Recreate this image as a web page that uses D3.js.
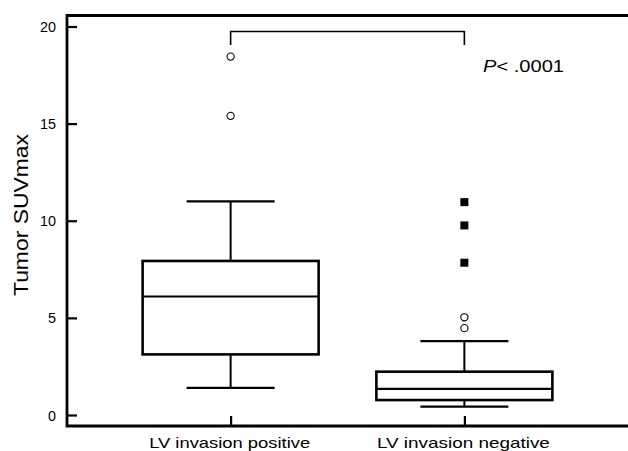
<!DOCTYPE html>
<html>
<head>
<meta charset="utf-8">
<script src="https://cdn.jsdelivr.net/npm/d3@7"></script>
<style>
  body { margin: 0; background: #fff; }
  text { font-family: "Liberation Sans", Arial, sans-serif; fill: #000; }
</style>
</head>
<body>
<script>
var svgWidth = 628;
var svgHeight = 451;

// data
var groups = ['LV invasion positive', 'LV invasion negative'];
var lowWhisker = [1.4, 0.43];
var q1 = [3.12, 0.77];
var medians = [6.1, 1.34];
var q3 = [7.93, 2.23];
var highWhisker = [11.0, 3.8];
var outlierCircles = [[18.45, 15.4], [5.03, 4.47]];
var outlierSquares = [[], [10.96, 9.76, 7.84]];
var yTicks = [0, 5, 10, 15, 20];
var pLabel = '< .0001';

var svg = d3.select('body').append('svg')
  .attr('width', svgWidth)
  .attr('height', svgHeight);

var frameLeft = 67, frameTop = 15.5, frameBottom = 426;

var x = d3.scalePoint().domain(groups).range([frameLeft, svgWidth]).padding(0.7);
var y = d3.scaleLinear().domain([0, 20]).range([415, 26.5]);

var boxWidth = 176, capWidth = 88;

// frame: left, top, bottom (open on the right)
svg.append('path')
  .attr('d', 'M' + svgWidth + ',' + frameTop + 'H' + frameLeft + 'V' + frameBottom + 'H' + svgWidth)
  .attr('fill', 'none')
  .attr('stroke', '#000')
  .attr('stroke-width', 2.8);

// y axis ticks pointing inward
var yAxis = d3.axisRight(y).tickValues(yTicks).tickSize(10).tickFormat('');
var yg = svg.append('g').attr('transform', 'translate(' + frameLeft + ',0)').call(yAxis);
yg.select('.domain').remove();
yg.selectAll('line').attr('stroke-width', 2.2);

svg.selectAll('.ylab').data(yTicks).enter().append('text')
  .attr('class', 'ylab')
  .attr('x', 56)
  .attr('y', function(d){ return y(d) + 5.5; })
  .attr('text-anchor', 'end')
  .attr('textLength', function(d){ return d >= 10 ? 16 : 8; })
  .attr('lengthAdjust', 'spacingAndGlyphs')
  .style('font-size', '15px')
  .text(function(d){ return d; });

svg.append('text')
  .attr('transform', 'translate(28,' + 215 + ') rotate(-90)')
  .attr('text-anchor', 'middle')
  .attr('textLength', 162)
  .attr('lengthAdjust', 'spacingAndGlyphs')
  .style('font-size', '20px')
  .text('Tumor SUVmax');

// x axis ticks pointing up
var xAxis = d3.axisTop(x).tickSize(10).tickFormat('');
var xg = svg.append('g').attr('transform', 'translate(0,' + frameBottom + ')').call(xAxis);
xg.select('.domain').remove();
xg.selectAll('line').attr('stroke-width', 2.2);

svg.selectAll('.xlab').data(groups).enter().append('text')
  .attr('class', 'xlab')
  .attr('x', function(d){ return x(d) - 1; })
  .attr('y', 448)
  .attr('text-anchor', 'middle')
  .attr('textLength', function(d, i){ return i === 0 ? 161 : 173; })
  .attr('lengthAdjust', 'spacingAndGlyphs')
  .style('font-size', '15px')
  .text(function(d){ return d; });

// boxes
groups.forEach(function(g, i){
  var cx = x(g);
  var b = svg.append('g');
  // whiskers
  b.append('line').attr('x1', cx).attr('x2', cx).attr('y1', y(highWhisker[i])).attr('y2', y(q3[i]))
    .attr('stroke', '#000').attr('stroke-width', 2);
  b.append('line').attr('x1', cx).attr('x2', cx).attr('y1', y(q1[i])).attr('y2', y(lowWhisker[i]))
    .attr('stroke', '#000').attr('stroke-width', 2);
  b.append('line').attr('x1', cx - capWidth / 2).attr('x2', cx + capWidth / 2)
    .attr('y1', y(highWhisker[i])).attr('y2', y(highWhisker[i]))
    .attr('stroke', '#000').attr('stroke-width', 2.2);
  b.append('line').attr('x1', cx - capWidth / 2).attr('x2', cx + capWidth / 2)
    .attr('y1', y(lowWhisker[i])).attr('y2', y(lowWhisker[i]))
    .attr('stroke', '#000').attr('stroke-width', 2.2);
  // box
  b.append('rect')
    .attr('x', cx - boxWidth / 2)
    .attr('y', y(q3[i]))
    .attr('width', boxWidth)
    .attr('height', y(q1[i]) - y(q3[i]))
    .attr('fill', 'none')
    .attr('stroke', '#000')
    .attr('stroke-width', 2.6);
  b.append('line').attr('x1', cx - boxWidth / 2).attr('x2', cx + boxWidth / 2)
    .attr('y1', y(medians[i])).attr('y2', y(medians[i]))
    .attr('stroke', '#000').attr('stroke-width', 2.2);
  // outliers
  b.selectAll('circle').data(outlierCircles[i]).enter().append('circle')
    .attr('cx', cx)
    .attr('cy', function(d){ return y(d); })
    .attr('r', 3.6)
    .attr('fill', '#fff')
    .attr('stroke', '#000')
    .attr('stroke-width', 1.1);
  b.selectAll('rect.sq').data(outlierSquares[i]).enter().append('rect')
    .attr('class', 'sq')
    .attr('x', cx - 4)
    .attr('y', function(d){ return y(d) - 4; })
    .attr('width', 8)
    .attr('height', 8)
    .attr('fill', '#000');
});

// significance bracket
var x0 = x(groups[0]), x1 = x(groups[1]);
svg.append('path')
  .attr('d', 'M' + x0 + ',45V31.5H' + x1 + 'V45')
  .attr('fill', 'none')
  .attr('stroke', '#000')
  .attr('stroke-width', 1.6);

var pt = svg.append('text')
  .attr('x', 483)
  .attr('y', 72)
  .attr('textLength', 81)
  .attr('lengthAdjust', 'spacingAndGlyphs')
  .style('font-size', '16px');
pt.append('tspan').style('font-style', 'italic').text('P');
pt.append('tspan').text(pLabel);
</script>
</body>
</html>
